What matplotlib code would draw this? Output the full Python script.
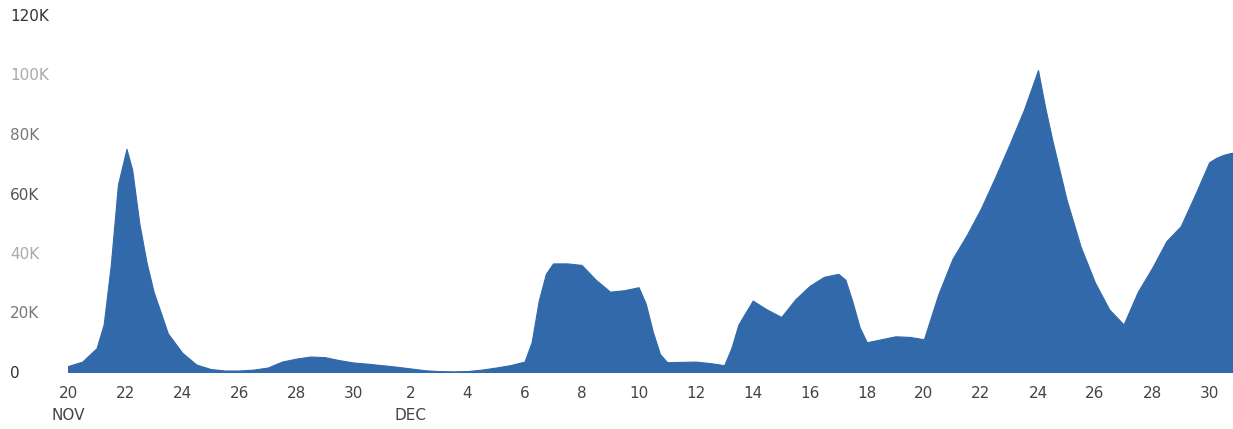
import numpy as np
import pandas as pd
from matplotlib import pyplot as plt

# days since Nov 20 (half-day samples, a few extra around the sharp turns)
days = [
    0, 0.5, 1, 1.25, 1.5, 1.75, 2.05, 2.25, 2.5, 2.75,
    3, 3.5, 4, 4.5, 5, 5.5, 6, 6.5, 7, 7.5,
    8, 8.5, 9, 9.5, 10, 10.5, 11, 11.5, 12, 12.5,
    13, 13.5, 14, 14.5, 15, 15.5, 16, 16.25, 16.5, 16.75,
    17, 17.5, 18, 18.5, 19, 19.5, 20, 20.25, 20.5, 20.75,
    21, 21.5, 22, 22.5, 23, 23.25, 23.5, 24, 24.5, 25,
    25.5, 26, 26.5, 27, 27.25, 27.5, 27.75, 28, 28.5, 29,
    29.5, 30, 30.5, 31, 31.5, 32, 32.5, 33, 33.5, 34,
    34.25, 34.5, 35, 35.5, 36, 36.5, 37, 37.5, 38, 38.5,
    39, 39.5, 40, 40.25, 40.5, 40.75, 41,
]
visits_k = [
    2, 3.5, 8, 16, 36, 63, 75, 68, 50, 37,
    27, 13, 6.5, 2.5, 1, 0.5, 0.5, 0.8, 1.5, 3.5,
    4.5, 5.2, 5, 4, 3.2, 2.8, 2.3, 1.8, 1.2, 0.6,
    0.3, 0.2, 0.3, 0.8, 1.5, 2.3, 3.5, 10, 24, 33,
    36.5, 36.5, 36, 31, 27, 27.5, 28.5, 23, 13.5, 6,
    3.3, 3.4, 3.5, 3, 2.3, 8, 16, 24, 21, 18.5,
    24.5, 29, 32, 33, 31, 23.5, 15, 10, 11, 12,
    11.8, 11, 26, 38, 46, 55, 65.5, 76.5, 88, 101.5,
    89, 78, 58, 42, 30, 21, 16, 27, 35, 44,
    49, 59.5, 70.5, 72, 73, 73.6, 74,
]
visits = np.array(visits_k) * 1000

yticks = [0, 20000, 40000, 60000, 80000, 100000, 120000]
ylabels = ['0', '20K', '40K', '60K', '80K', '100K', '120K']
ycolors = ['#333333', '#777777', '#aaaaaa', '#555555', '#777777', '#aaaaaa', '#333333']

start = pd.Timestamp('2017-11-20')
xticks = np.arange(0, 41, 2)
xlabels = []
for d in xticks:
    day = start + pd.Timedelta(days=int(d))
    lab = str(day.day)
    if d == 0 or day.day == 2 and day.month == 12:
        lab += '\n' + day.strftime('%b').upper()
    xlabels.append(lab)

fig = plt.figure(figsize=(12.33, 4.29), dpi=100)
ax = fig.add_axes([68/1233, 57/429, 1164/1233, 357/429])

ax.fill_between(days, 0, visits, color='#3169aa', linewidth=0.8,
                edgecolor='#3169aa')

ax.set_xlim(0, 40.8)
ax.set_ylim(0, 120000)

ax.set_yticks(yticks)
ax.set_yticklabels(ylabels, fontsize=11)
for lab, c in zip(ax.get_yticklabels(), ycolors):
    lab.set_color(c)
    lab.set_horizontalalignment('left')
ax.tick_params(axis='y', length=0, pad=41.5)

ax.set_xticks(xticks)
ax.set_xticklabels(xlabels, fontsize=11, color='#444444', linespacing=1.6)
ax.tick_params(axis='x', length=0, pad=10)

for s in ax.spines.values():
    s.set_visible(False)

fig.savefig('out.png', dpi=100)
